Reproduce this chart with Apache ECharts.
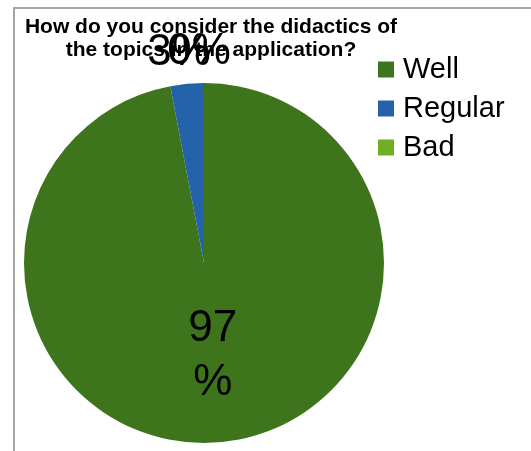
<!DOCTYPE html>
<html>
<head>
<meta charset="utf-8">
<script src="https://cdn.jsdelivr.net/npm/echarts@6/dist/echarts.min.js"></script>
<style>
  html, body { margin: 0; padding: 0; background: #fff; }
  #chart { width: 531px; height: 451px; }
</style>
</head>
<body>
<div id="chart"></div>
<script>
// 数据
var categories = ['Well', 'Regular', 'Bad'];
var values = [97, 3, 0];
var colors = ['#3e741c', '#2462a9', '#72ae22'];
var titleText = 'How do you consider the didactics of\nthe topics in the application?';

(function(){
    var myChart = echarts.init(document.getElementById('chart'));

    var pieData = categories.map(function(name, i){
        var item = { name: name, value: values[i], itemStyle: { color: colors[i] } };
        // 最大扇区的标签放在内部并换行
        if (i === 0) {
            item.label = { position: 'inside', formatter: '{c}\n%', lineHeight: 54 };
        }
        return item;
    });

    var option = {
        backgroundColor: '#fff',
        animation: false,
        // 外框线
        graphic: [{
            type: 'rect',
            z: -1,
            shape: { x: 14, y: 8, width: 700, height: 700 },
            style: { fill: 'none', stroke: '#a6a6a6', lineWidth: 2 }
        }],
        title: {
            text: titleText,
            left: 206,
            top: 11,
            textAlign: 'center',
            textStyle: {
                fontFamily: 'Liberation Sans, Arial, sans-serif',
                fontSize: 21,
                fontWeight: 'bold',
                color: '#000',
                lineHeight: 23
            }
        },
        legend: {
            orient: 'vertical',
            left: 373,
            top: 50,
            icon: 'rect',
            itemWidth: 16,
            itemHeight: 16,
            itemGap: 10,
            data: categories,
            textStyle: {
                fontFamily: 'Liberation Sans, Arial, sans-serif',
                fontSize: 29,
                lineHeight: 29,
                color: '#000',
                padding: [0, 0, 0, 4]
            }
        },
        series: [{
            type: 'pie',
            center: [204, 263],
            radius: 180,
            startAngle: 90,
            clockwise: true,
            avoidLabelOverlap: false,
            itemStyle: { borderWidth: 0 },
            label: {
                show: true,
                position: 'outside',
                formatter: '{c}%',
                fontFamily: 'Liberation Sans, Arial, sans-serif',
                fontSize: 44,
                color: '#000'
            },
            labelLine: { show: false, length: 31, length2: 0 },
            labelLayout: function(params){
                if (params.dataIndex > 0) {
                    return { align: 'center' };
                }
            },
            data: pieData
        }]
    };

    myChart.setOption(option);
})();
</script>
</body>
</html>
